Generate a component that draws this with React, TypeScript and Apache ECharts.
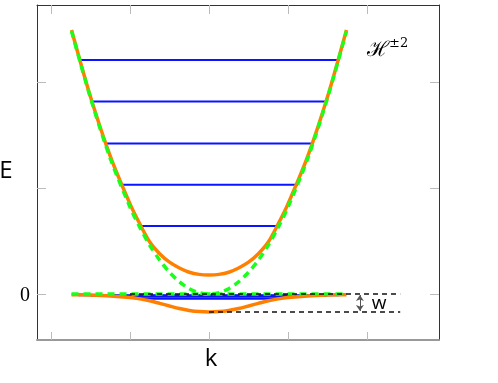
import React, { useEffect, useRef } from "react";
import * as echarts from "echarts";

// momentum grid (k) and energies
const kPoints = [-1.74, -1.5, -1.25, -1, -0.875, -0.75, -0.625, -0.5, -0.375, -0.25, -0.125, 0, 0.125, 0.25, 0.375, 0.5, 0.625, 0.75, 0.875, 1, 1.25, 1.5, 1.74];
const parabolaE = [2.48, 1.85, 1.28, 0.82, 0.628, 0.46, 0.32, 0.205, 0.115, 0.05, 0.013, 0, 0.013, 0.05, 0.115, 0.205, 0.32, 0.46, 0.628, 0.82, 1.28, 1.85, 2.48];
const upperE = [2.49, 1.86, 1.3, 0.85, 0.66, 0.49, 0.38, 0.3, 0.245, 0.205, 0.185, 0.18, 0.185, 0.205, 0.245, 0.3, 0.38, 0.49, 0.66, 0.85, 1.3, 1.86, 2.49];
const lowerE = [-0.006, -0.01, -0.018, -0.033, -0.046, -0.064, -0.088, -0.113, -0.137, -0.155, -0.166, -0.17, -0.166, -0.155, -0.137, -0.113, -0.088, -0.064, -0.046, -0.033, -0.018, -0.01, -0.006];

// Landau-like levels: energy and half-width in k
const levelE = [2.208, 1.815, 1.42, 1.03, 0.642];
const levelK = [1.652, 1.494, 1.316, 1.127, 0.867];
const lowLevelE = [-0.012, -0.016, -0.02, -0.028, -0.045];

const xTicks = [-2, -1, 0, 1, 2];
const yTicks = [0, 1, 2];
const yLabels = [0];
const flatBandK = [-1.74, 1.74];
const zeroLineK = [-1, 2.42];
const gapLineK = [0, 2.42];
const gapE = -0.17;
const arrowK = 1.91;

const X_MIN = -2.177;
const X_MAX = 2.911;
const Y_MIN = -0.434;
const Y_MAX = 2.726;

export default function App() {
  const ref = useRef<HTMLDivElement>(null);
  useEffect(() => {
    if (!ref.current) return;
    const chart = echarts.init(ref.current, undefined, { renderer: "svg" });
    const blue = "#0a14ff";
    const series: any[] = [];
    levelE.forEach((e, i) => {
      series.push({
        type: "line",
        data: [[-levelK[i], e], [levelK[i], e]],
        symbol: "none",
        lineStyle: { color: blue, width: 2 },
        z: 2,
      });
      series.push({
        type: "line",
        data: [[-levelK[i], lowLevelE[i]], [levelK[i], lowLevelE[i]]],
        symbol: "none",
        lineStyle: { color: blue, width: 1.8 },
        z: 2,
      });
    });
    series.push({
      type: "line",
      data: kPoints.map((k, i) => [k, upperE[i]]),
      symbol: "none",
      smooth: 0.3,
      lineStyle: { color: "#ff8000", width: 3.5 },
      z: 3,
    });
    series.push({
      type: "line",
      data: kPoints.map((k, i) => [k, lowerE[i]]),
      symbol: "none",
      smooth: 0.3,
      lineStyle: { color: "#ff8000", width: 3.5 },
      z: 3,
    });
    series.push({
      type: "line",
      data: kPoints.map((k, i) => [k, parabolaE[i]]),
      symbol: "none",
      smooth: 0.3,
      lineStyle: { color: "#1aff1a", width: 3.5, type: [7, 5] },
      z: 4,
    });
    series.push({
      type: "line",
      data: flatBandK.map((k) => [k, 0]),
      symbol: "none",
      lineStyle: { color: "#1aff1a", width: 3.5, type: [7, 5] },
      z: 4,
    });
    series.push({
      type: "line",
      data: zeroLineK.map((k) => [k, 0]),
      symbol: "none",
      lineStyle: { color: "#111", width: 1.3, type: [5, 4] },
      z: 5,
    });
    series.push({
      type: "line",
      data: gapLineK.map((k) => [k, gapE]),
      symbol: "none",
      lineStyle: { color: "#111", width: 1.3, type: [5, 4] },
      z: 5,
      markLine: {
        silent: true,
        symbol: ["arrow", "arrow"],
        symbolSize: [6, 6],
        label: { show: false },
        lineStyle: { color: "#555", width: 1, type: "solid" },
        data: [[{ coord: [arrowK, -0.01] }, { coord: [arrowK, gapE + 0.01] }]],
      },
    });

    const baseX = {
      type: "value",
      min: X_MIN,
      max: X_MAX,
      splitLine: { show: false },
      axisLabel: { show: false },
    };
    const baseY = {
      type: "value",
      min: Y_MIN,
      max: Y_MAX,
      splitLine: { show: false },
    };
    chart.setOption({
      animation: false,
      grid: { left: 37, top: 5, width: 402, height: 335, containLabel: false },
      xAxis: [
        {
          ...baseX,
          position: "bottom",
          axisLine: { show: true, onZero: false, lineStyle: { color: "#999", width: 2 } },
          axisTick: { show: true, inside: true, length: 8, customValues: xTicks, lineStyle: { color: "#bbb" } },
        },
        {
          ...baseX,
          position: "top",
          axisLine: { show: true, onZero: false, lineStyle: { color: "#333", width: 1 } },
          axisTick: { show: true, inside: true, length: 9, customValues: xTicks, lineStyle: { color: "#bbb" } },
        },
      ],
      yAxis: [
        {
          ...baseY,
          position: "left",
          axisLine: { show: true, onZero: false, lineStyle: { color: "#333", width: 1 } },
          axisTick: { show: true, inside: true, length: 9, customValues: yTicks, lineStyle: { color: "#bbb" } },
          axisLabel: {
            show: true,
            customValues: yLabels,
            margin: 7,
            color: "#000",
            fontSize: 20,
            fontFamily: "Liberation Serif",
          },
        },
        {
          ...baseY,
          position: "right",
          axisLine: { show: true, onZero: false, lineStyle: { color: "#333", width: 1 } },
          axisTick: { show: true, inside: true, length: 9, customValues: yTicks, lineStyle: { color: "#bbb" } },
          axisLabel: { show: false },
        },
      ],
      series,
      graphic: [
        {
          type: "text",
          style: { text: "E", x: 6, y: 168, font: '24px "Open Sans"', fill: "#000", textAlign: "center", textVerticalAlign: "middle" },
        },
        {
          type: "text",
          style: { text: "k", x: 211, y: 356, font: '24px "Open Sans"', fill: "#000", textAlign: "center", textVerticalAlign: "middle" },
        },
        {
          type: "text",
          style: { text: "w", x: 379, y: 302, font: '19px "Open Sans"', fill: "#000", textAlign: "center", textVerticalAlign: "middle" },
        },
        {
          type: "text",
          style: { text: "ℋ", x: 378, y: 49, font: '21px "DejaVu Serif"', fill: "#000", textAlign: "center", textVerticalAlign: "middle" },
        },
        {
          type: "text",
          style: { text: "±2", x: 389, y: 42, font: '13px "DejaVu Serif"', fill: "#000", textAlign: "left", textVerticalAlign: "middle" },
        },
      ],
    });
    return () => chart.dispose();
  }, []);
  return <div ref={ref} style={{ position: "fixed", left: 0, top: 0, width: 498, height: 383 }} />;
}
